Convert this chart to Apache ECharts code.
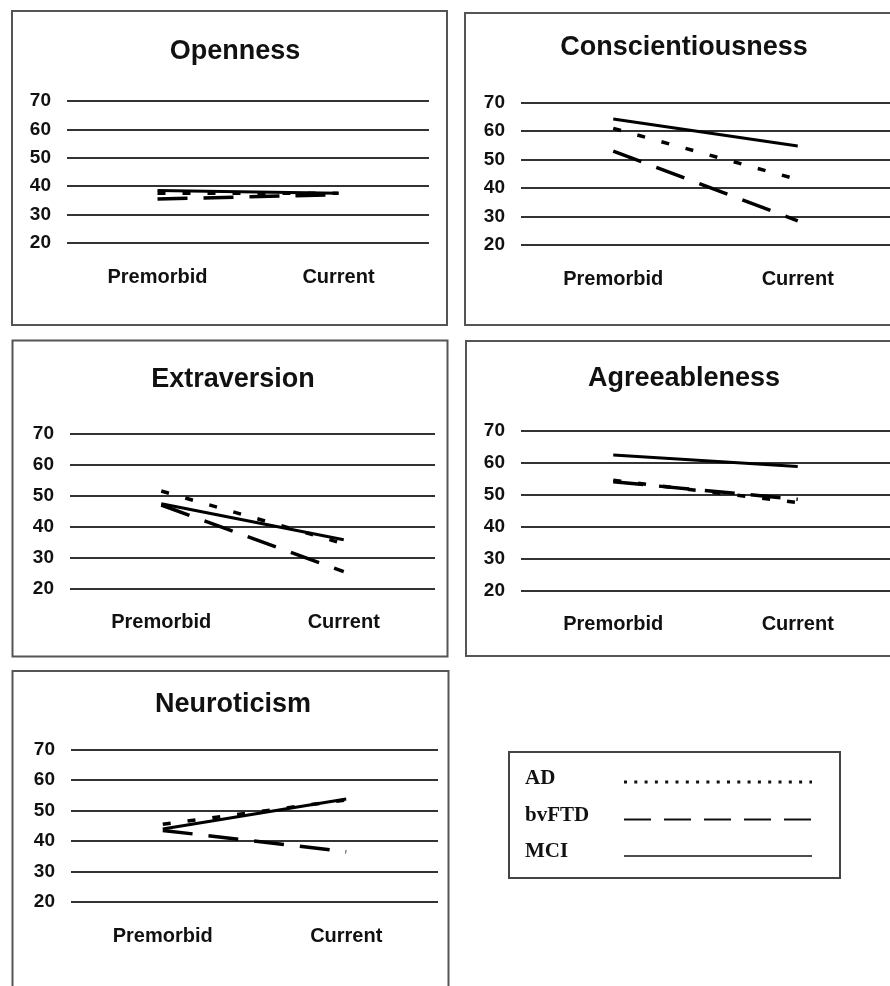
<!DOCTYPE html>
<html>
<head>
<meta charset="utf-8">
<script src="https://cdn.jsdelivr.net/npm/echarts@6/dist/echarts.min.js"></script>
<style>
  html, body { margin: 0; padding: 0; background: #fff; }
  #chart { width: 890px; height: 986px; }
</style>
</head>
<body>
<div id="chart"></div>
<script>
const categories = ['Premorbid', 'Current']
const yTicks = [20, 30, 40, 50, 60, 70]
const groups = ['AD', 'bvFTD', 'MCI']
const traits = ['Openness', 'Conscientiousness', 'Extraversion', 'Agreeableness', 'Neuroticism']

// [premorbid, current], one pair per trait
const adValues = [[37.5, 37.5], [61, 43], [51.5, 34.5], [54.5, 47.5], [45.5, 53.5]]
const bvftdValues = [[35.5, 37], [53, 28.5], [47, 25.5], [54, 48.5], [43.5, 36.5]]
const mciValues = [[38.5, 37.5], [64.3, 54.8], [47.4, 35.8], [62.4, 58.8], [44, 53.8]]

const valuesByGroup = { AD: adValues, bvFTD: bvftdValues, MCI: mciValues }

// line look per group
const groupStyle = {
  AD: { type: [8, 17], width: 3.5 },
  bvFTD: { type: [30, 16], width: 3.5 },
  MCI: { type: 'solid', width: 3 }
}

// panel layout: plot area, frame box and title centre
const panels = [
  { grid: { left: 67, right: 461, top: 101, bottom: 743 }, frame: [12, 11, 435, 314], title: [235, 52] },
  { grid: { left: 521, right: -2, top: 102.7, bottom: 741 }, frame: [465, 13, 440, 312], title: [684, 47.5] },
  { grid: { left: 70, right: 455, top: 433.7, bottom: 397.3 }, frame: [12.5, 340.5, 435, 316], title: [233, 379.5] },
  { grid: { left: 521, right: -2, top: 430.7, bottom: 395.7 }, frame: [466, 341, 440, 315], title: [684, 378.5] },
  { grid: { left: 71, right: 452, top: 749.7, bottom: 84 }, frame: [12.5, 671, 436, 330], title: [233, 704.5] }
]

const sansFont = '"Liberation Sans", Arial, sans-serif'
const serifFont = '"Liberation Serif", "Times New Roman", serif'

const chart = echarts.init(document.getElementById('chart'))

const option = {
  backgroundColor: '#fff',
  animation: false,
  title: panels.map((p, i) => ({
    text: traits[i],
    left: p.title[0],
    top: p.title[1],
    textAlign: 'center',
    textVerticalAlign: 'middle',
    padding: 0,
    textStyle: { fontFamily: sansFont, fontSize: 27, fontWeight: 'bold', color: '#111' }
  })),
  grid: panels.map(p => p.grid),
  xAxis: panels.map((p, i) => ({
    type: 'category',
    gridIndex: i,
    data: categories,
    boundaryGap: true,
    axisLine: { show: false },
    axisTick: { show: false },
    axisLabel: { fontFamily: sansFont, fontSize: 20, fontWeight: 'bold', color: '#111', margin: 24 }
  })),
  yAxis: panels.map((p, i) => ({
    type: 'value',
    gridIndex: i,
    min: yTicks[0],
    max: yTicks[yTicks.length - 1],
    interval: yTicks[1] - yTicks[0],
    axisLine: { show: false },
    axisTick: { show: false },
    axisLabel: { fontFamily: sansFont, fontSize: 19, fontWeight: 'bold', color: '#111', margin: 16 },
    splitLine: { lineStyle: { color: '#333', width: 2 } }
  })),
  series: [],
  graphic: []
}

panels.forEach((p, i) => {
  groups.forEach(g => {
    option.series.push({
      name: g,
      type: 'line',
      xAxisIndex: i,
      yAxisIndex: i,
      data: valuesByGroup[g][i],
      symbol: 'none',
      silent: true,
      lineStyle: { color: '#000', width: groupStyle[g].width, type: groupStyle[g].type, cap: 'butt' },
      z: 3
    })
  })
  option.graphic.push({
    type: 'rect',
    shape: { x: p.frame[0], y: p.frame[1], width: p.frame[2], height: p.frame[3] },
    style: { fill: 'none', stroke: '#555', lineWidth: 2 },
    silent: true
  })
})

// legend box drawn as a static key
const legendRows = [
  { name: 'AD', y: 779, dash: [3, 7.3], width: 3 },
  { name: 'bvFTD', y: 816, dash: [27, 13], width: 2 },
  { name: 'MCI', y: 852, dash: null, width: 1.5 }
]
option.graphic.push({
  type: 'rect',
  shape: { x: 509, y: 752, width: 331, height: 126 },
  style: { fill: '#fff', stroke: '#444', lineWidth: 2 },
  silent: true
})
legendRows.forEach((row, k) => {
  option.graphic.push({
    type: 'text',
    x: 525,
    y: row.y,
    style: {
      text: row.name,
      font: 'bold 21px ' + serifFont,
      fill: '#111',
      verticalAlign: 'middle'
    },
    silent: true
  })
  option.graphic.push({
    type: 'line',
    shape: { x1: 624, y1: row.y + 3 + k * 0.5, x2: 812, y2: row.y + 3 + k * 0.5 },
    style: { stroke: '#111', lineWidth: row.width, lineDash: row.dash },
    silent: true
  })
})

chart.setOption(option)
</script>
</body>
</html>
